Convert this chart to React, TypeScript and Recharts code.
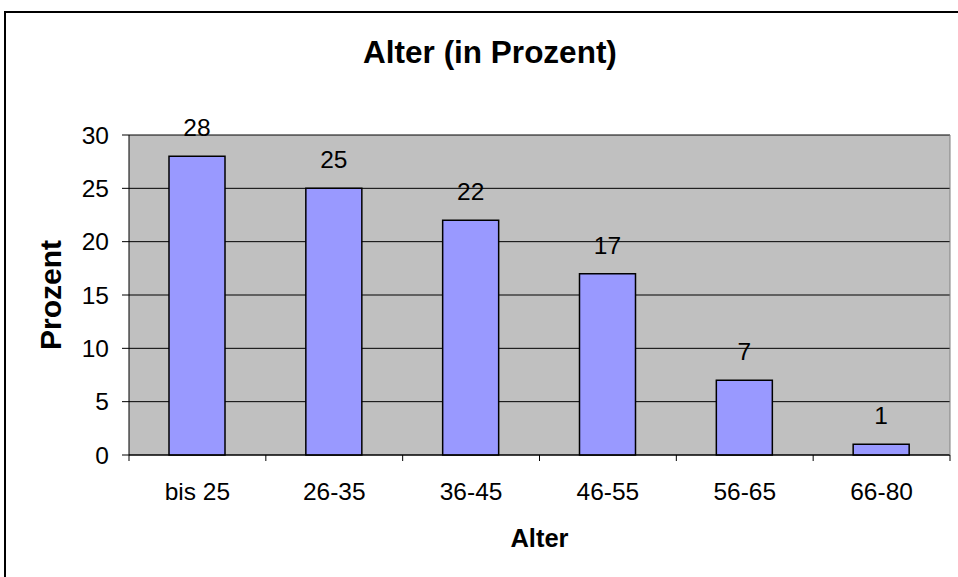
import { BarChart, Bar, XAxis, YAxis, CartesianGrid, LabelList, Label } from 'recharts'

const categories = ['bis 25', '26-35', '36-45', '46-55', '56-65', '66-80']
const values = [28, 25, 22, 17, 7, 1]
const yTicks = [0, 5, 10, 15, 20, 25, 30]

const chartData = categories.map((name, i) => ({ name, value: values[i] }))

const font = "Arial, 'Liberation Sans', sans-serif"

// label in the middle of the band, tick marks on the band edges
const CategoryTick = (props: any) => {
  const { x, y, payload, index, width, visibleTicksCount } = props
  const band = (width || 821) / (visibleTicksCount || categories.length)
  const axisY = y - 6 - 22
  const left = x - band / 2
  return (
    <g>
      <line x1={left} x2={left} y1={axisY} y2={axisY + 6} stroke="#000" />
      {index === visibleTicksCount - 1 && (
        <line x1={x + band / 2} x2={x + band / 2} y1={axisY} y2={axisY + 6} stroke="#000" />
      )}
      <text x={x} y={y} dy="0.71em" textAnchor="middle" fontSize={24.5} fill="#000">
        {payload.value}
      </text>
    </g>
  )
}

export default function App() {
  return (
    <div
      style={{
        position: 'absolute',
        left: 0,
        top: 0,
        width: 958,
        height: 577,
        overflow: 'hidden',
        background: '#fff',
        fontFamily: font
      }}
    >
      <div
        style={{
          position: 'absolute',
          left: 4,
          top: 11,
          width: 1000,
          height: 700,
          border: '2px solid #000'
        }}
      />
      <div
        style={{
          position: 'absolute',
          left: 0,
          width: 980,
          top: 34,
          textAlign: 'center',
          fontSize: 31.5,
          fontWeight: 'bold',
          color: '#000'
        }}
      >
        Alter (in Prozent)
      </div>
      <div style={{ position: 'absolute', left: 0, top: 0 }}>
        <BarChart
          width={958}
          height={577}
          data={chartData}
          margin={{ top: 135, right: 0, left: 39, bottom: 22 }}
        >
          <CartesianGrid vertical={false} stroke="#000" fill="#C0C0C0" fillOpacity={1} />
          <XAxis
            dataKey="name"
            height={100}
            stroke="#000"
            tickLine={false}
            tickSize={6}
            tickMargin={22}
            interval={0}
            tick={<CategoryTick />}
          >
            <Label
              value="Alter"
              position="insideBottom"
              offset={8}
              style={{ fontSize: 25.5, fontWeight: 'bold', fill: '#000' }}
            />
          </XAxis>
          <XAxis
            xAxisId="top"
            dataKey="name"
            orientation="top"
            height={0}
            stroke="#808080"
            tick={false}
            tickLine={false}
          />
          <YAxis
            domain={[0, 30]}
            ticks={yTicks}
            interval={0}
            width={90}
            stroke="#000"
            tickSize={7}
            tickMargin={13}
            tick={{ fontSize: 24.5, fill: '#000' }}
          >
            <Label
              value="Prozent"
              angle={-90}
              position="insideLeft"
              offset={11}
              style={{ textAnchor: 'middle', fontSize: 30, fontWeight: 'bold', fill: '#000' }}
            />
          </YAxis>
          <YAxis
            yAxisId="right"
            orientation="right"
            width={8}
            domain={[0, 30]}
            stroke="#808080"
            tick={false}
            tickLine={false}
          />
          <Bar
            dataKey="value"
            fill="#9999FF"
            stroke="#000"
            strokeWidth={1.5}
            barSize={56}
            isAnimationActive={false}
          >
            <LabelList dataKey="value" position="top" offset={20} fontSize={24.5} fill="#000" />
          </Bar>
        </BarChart>
      </div>
    </div>
  )
}
